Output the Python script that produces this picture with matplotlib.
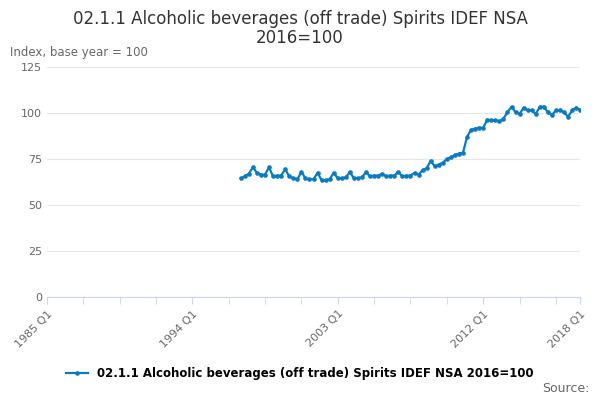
import matplotlib
matplotlib.use("Agg")
import matplotlib.pyplot as plt
import numpy as np

start_year = 1997  # first quarter of data: 1997 Q1
values = [
    64.5, 65.5, 67, 70.5,
    67.5, 66.5, 66.5, 70.5,
    65.5, 66, 66, 69.5,
    65.5, 64.5, 64, 68,
    64.5, 64, 64, 67.5,
    63.5, 63.5, 64, 67.5,
    64.5, 64.5, 65, 68,
    64.5, 64.5, 65, 68,
    65.5, 66, 66, 67,
    65.5, 66, 66, 68,
    65.5, 66, 66, 67.5,
    66.5, 69, 70, 74,
    71, 72, 73, 75,
    76, 77, 78, 78.5,
    87, 91, 91.5, 92,
    92, 96.5, 96, 96,
    95.5, 97, 100.5, 103.5,
    100.5, 99.5, 103, 101.5,
    101.5, 99.5, 103.5, 103.5,
    100.5, 99, 101.5, 101.5,
    100.5, 98, 101.5, 103,
    101.5,
]
label_ticks = ["1985 Q1", "1994 Q1", "2003 Q1", "2012 Q1", "2018 Q1"]
series_name = "02.1.1 Alcoholic beverages (off trade) Spirits IDEF NSA 2016=100"

# quarter index counted from 1985 Q1
x = np.arange(len(values)) + (start_year - 1985) * 4
color = "#0a7bc1"

fig, ax = plt.subplots(figsize=(6, 4), dpi=100)
fig.subplots_adjust(left=0.078, right=0.967, top=0.832, bottom=0.258)
ax.plot(x, values, "o-", color=color, lw=1.6, ms=2.3)

last = (2018 - 1985) * 4
ax.set_xlim(0, last)
ax.set_ylim(0, 125)
ax.set_yticks([0, 25, 50, 75, 100, 125])
pos = [0, 36, 72, 108, last]
ax.set_xticks(pos)
ax.set_xticklabels(label_ticks, rotation=45, ha="right", rotation_mode="anchor",
                   fontsize=8, color="#666666")
ax.set_xticks(list(range(0, last, 9)), minor=True)
ax.tick_params(axis="x", which="both", length=5, color="#ccd6eb")
ax.tick_params(axis="y", length=0, labelsize=8, labelcolor="#666666")
ax.grid(axis="y", color="#e6e6e6", lw=0.8)
ax.set_axisbelow(True)
for s in ["top", "right", "left"]:
    ax.spines[s].set_visible(False)
ax.spines["bottom"].set_color("#ccd6eb")

fig.text(0.5, 0.975, "02.1.1 Alcoholic beverages (off trade) Spirits IDEF NSA\n2016=100",
         ha="center", va="top", fontsize=12, color="#333333", linespacing=1.1)
fig.text(0.017, 0.86, "Index, base year = 100", fontsize=8.5, color="#666666")
ax.plot([], [], "o-", color=color, lw=1.6, ms=2.3, label=series_name)
handles, labels = ax.get_legend_handles_labels()
fig.legend(handles[-1:], labels[-1:], loc="center", bbox_to_anchor=(0.5, 0.067),
           frameon=False, prop={"weight": "bold", "size": 8.5}, handlelength=1.8)
fig.text(0.983, 0.02, "Source:", ha="right", fontsize=9, color="#666666")
fig.savefig("out.png")
